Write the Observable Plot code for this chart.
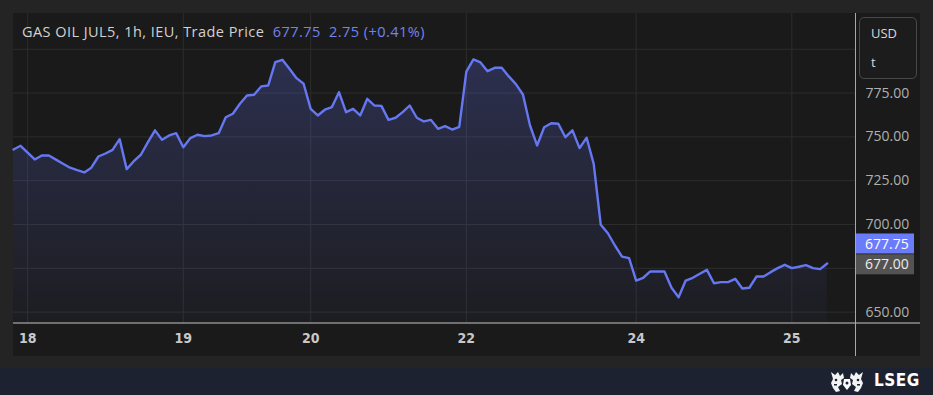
<!DOCTYPE html>
<html>
<head>
<meta charset="utf-8">
<script src="https://cdn.jsdelivr.net/npm/d3@7"></script>
<script src="https://cdn.jsdelivr.net/npm/@observablehq/plot@0.6"></script>
<style>
  html, body { margin: 0; padding: 0; }
  body { width: 933px; height: 395px; background: #242424; position: relative; overflow: hidden; font-family: "Open Sans", sans-serif; }
  #panel { position: absolute; left: 13px; top: 13px; width: 907px; height: 343px; background: #1a1a1a; }
  #title { position: absolute; left: 9px; top: 9px; font-size: 14.5px; letter-spacing: 0.45px; color: #d2d2d2; white-space: pre; }
  #title .q { color: #7283f0; }
  #usd { position: absolute; left: 846px; top: 4px; width: 56px; height: 60px; border: 1px solid #474747; border-radius: 5px; background: #1c1c1c; color: #d8d8d8; font-size: 13px; }
  #usd div { position: absolute; left: 11px; }
  #footer { position: absolute; left: 0; top: 368px; width: 933px; height: 27px; background: #1d2230; }
  #lseg { position: absolute; left: 874px; top: 2px; color: #fff; font-family: "DejaVu Sans Condensed", sans-serif; font-weight: bold; font-size: 17px; letter-spacing: 0.5px; }
  #emblem { position: absolute; left: 829px; top: 2px; }
</style>
</head>
<body>
<div id="panel">
  <div id="chart"></div>
  <div id="title">GAS OIL JUL5, 1h, IEU, Trade Price  <span class="q">677.75  2.75 (+0.41%)</span></div>
  <div id="usd"><div style="top:6px">USD</div><div style="top:35px">t</div></div>
</div>
<div id="footer">
  <svg id="emblem" width="36" height="24" viewBox="0 0 36 24">
    <g fill="#fff">
      <path d="M2 2 L6 5 L9 2 L11 6 L14 3 L15 8 L12 10 L13 14 L9 17 L11 21 L7 22 L4 18 L2 13 L4 9 Z" opacity="0.95"/>
      <path d="M34 2 L30 5 L27 2 L25 6 L22 3 L21 8 L24 10 L23 14 L27 17 L25 21 L29 22 L32 18 L34 13 L32 9 Z" opacity="0.95"/>
      <path d="M15 9 L21 9 L22 15 L18 20 L14 15 Z"/>
    </g>
    <g fill="#1d2230">
      <circle cx="7" cy="10" r="1.3"/><circle cx="29" cy="10" r="1.3"/>
      <circle cx="18" cy="13" r="1.5"/><rect x="5" y="14" width="3" height="1.5"/><rect x="28" y="14" width="3" height="1.5"/>
    </g>
  </svg>
  <div id="lseg">LSEG</div>
</div>
<script>
// Hourly trade prices (USD/t), GAS OIL JUL5
const prices = [742.8, 744.9, 741.0, 737.1, 739.4, 739.4, 737.0, 734.7, 732.4, 731.0,
  729.7, 732.4, 738.8, 740.5, 742.6, 748.7, 731.6, 736.1, 739.8, 747.0,
  753.7, 748.3, 750.8, 752.1, 744.1, 749.3, 751.2, 750.4, 750.8, 752.1,
  761.2, 763.2, 768.9, 773.6, 774.0, 778.8, 779.3, 792.6, 794.0, 788.9,
  783.5, 780.3, 766.0, 762.2, 765.5, 767.0, 775.5, 764.1, 766.0, 762.2,
  771.7, 767.9, 767.7, 759.7, 760.9, 764.1, 767.9, 760.9, 758.8, 759.7,
  754.6, 756.1, 754.2, 755.7, 787.2, 794.2, 792.5, 787.5, 789.4, 789.4,
  784.5, 780.1, 774.2, 756.5, 745.1, 755.5, 757.8, 757.5, 749.8, 753.7,
  743.6, 749.5, 734.6, 699.8, 695.0, 688.0, 681.7, 680.8, 668.0, 669.6,
  673.2, 673.2, 673.2, 663.9, 658.5, 668.0, 669.6, 671.9, 674.1, 666.5,
  667.1, 667.1, 669.0, 663.5, 663.9, 670.3, 670.3, 672.8, 675.1, 677.0,
  675.1, 675.9, 676.8, 675.1, 674.5, 677.75];

// Day labels on the time axis and the bar index where each day starts
const dayTickIndex = [2, 24, 42, 64, 88, 110];
const dayTickLabels = ["18", "19", "20", "22", "24", "25"];

// Price axis
const yTicks = [650, 675, 700, 725, 750, 775, 800];
const yTickLabels = [650, 700, 725, 750, 775];
const lastPrice = 677.75;
const refPrice = 677.00;

const xDomain = [0, 119];
const yDomain = [643.5, 820.4];

const data = prices.map((v, i) => ({i, v}));
const lineColor = "#6677f2";

const plot = Plot.plot({
  width: 907,
  height: 343,
  marginLeft: 0,
  marginRight: 65,
  marginTop: 0,
  marginBottom: 33,
  style: {background: "transparent", color: "#b4b4b4", fontFamily: "Open Sans, sans-serif", fontSize: "13px", overflow: "visible"},
  x: {domain: xDomain},
  y: {domain: yDomain},
  marks: [
    Plot.gridY(yTicks, {stroke: "#2d2d2d", strokeOpacity: 1, strokeWidth: 1}),
    Plot.gridX(dayTickIndex, {stroke: "#2d2d2d", strokeOpacity: 1, strokeWidth: 1}),
    Plot.areaY(data, {x: "i", y1: yDomain[0], y2: "v", fill: "url(#areaGrad)"}),
    Plot.lineY(data, {x: "i", y: "v", stroke: lineColor, strokeWidth: 2.4, strokeLinejoin: "round"}),
    Plot.axisY(yTickLabels, {anchor: "right", tickSize: 0, tickPadding: 10, tickFormat: d => d.toFixed(2), fontSize: 14, fill: "#b0b0b0", label: null}),
    Plot.axisX(dayTickIndex, {anchor: "bottom", tickSize: 0, tickPadding: 10, tickFormat: d => dayTickLabels[dayTickIndex.indexOf(d)], label: null, fontFamily: "DejaVu Sans Condensed, sans-serif", fontWeight: "bold", fontSize: 14, fill: "#c8c8c8"})
  ]
});

document.getElementById("chart").appendChild(plot);

const svg = d3.select(plot);
const xs = plot.scale("x"), ys = plot.scale("y");
const defs = svg.insert("defs", ":first-child");
const g = defs.append("linearGradient").attr("id", "areaGrad").attr("x1", 0).attr("y1", 0).attr("x2", 0).attr("y2", 1);
g.append("stop").attr("offset", "0%").attr("stop-color", "#6a78ff").attr("stop-opacity", 0.23);
g.append("stop").attr("offset", "100%").attr("stop-color", "#6a78ff").attr("stop-opacity", 0.03);

// decorations positioned through Plot's scales
const xRight = xs.apply(xDomain[1]);
const yBottom = ys.apply(yDomain[0]);
svg.append("line").attr("x1", 0).attr("x2", 907).attr("y1", yBottom).attr("y2", yBottom)
  .attr("stroke", "#8e8e8e").attr("stroke-width", 1.6);
svg.append("line").attr("x1", xRight + 0.5).attr("x2", xRight + 0.5).attr("y1", 0).attr("y2", 343)
  .attr("stroke", "#a8a8a8").attr("stroke-width", 1);

// price tags
function tag(value, dy, bg, fg) {
  const cy = ys.apply(value) + dy;
  svg.append("rect").attr("x", xRight + 1).attr("y", cy - 10).attr("width", 58).attr("height", 20).attr("fill", bg);
  svg.append("text").attr("x", xRight + 10).attr("y", cy).attr("dy", "0.36em").attr("text-anchor", "start")
    .attr("fill", fg).attr("font-size", 14).attr("font-family", "Open Sans, sans-serif").text(value.toFixed(2));
}
tag(refPrice, 0, "#535353", "#ececec");
tag(lastPrice, -19.5, "#6b7cfb", "#ffffff");
</script>
</body>
</html>
